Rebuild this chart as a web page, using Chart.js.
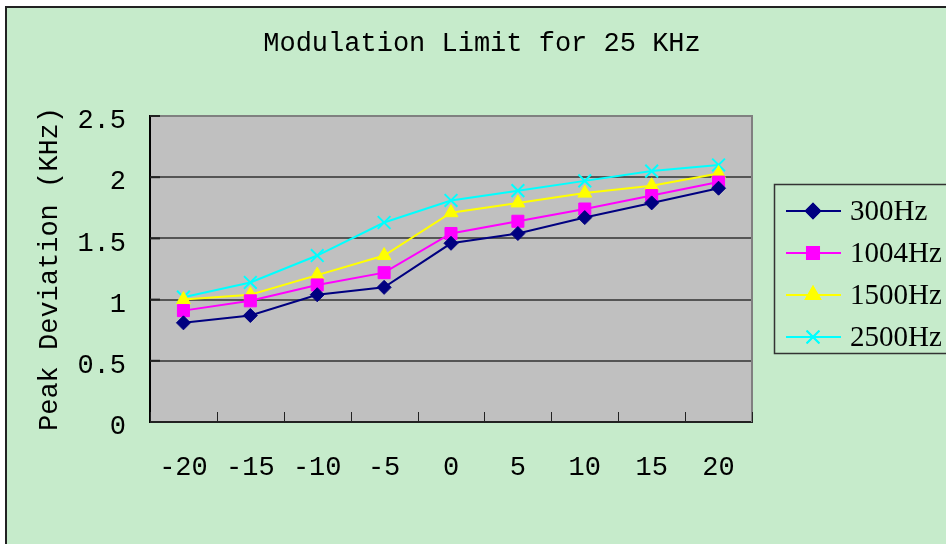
<!DOCTYPE html>
<html>
<head>
<meta charset="utf-8">
<script src="https://cdn.jsdelivr.net/npm/chart.js@4/dist/chart.umd.min.js"></script>
<style>
  html, body { margin: 0; padding: 0; background: #fff; }
  #wrap { width: 946px; height: 544px; }
</style>
</head>
<body>
<div id="wrap"><canvas id="modChart" width="946" height="544"></canvas></div>
<script>
// categories (offset, kHz) and peak deviation per test tone
const categories = ['-20', '-15', '-10', '-5', '0', '5', '10', '15', '20']
const hz300 = [0.81, 0.87, 1.04, 1.10, 1.46, 1.54, 1.67, 1.79, 1.91]
const hz1004 = [0.91, 0.99, 1.12, 1.22, 1.54, 1.64, 1.74, 1.85, 1.96]
const hz1500 = [1.00, 1.04, 1.20, 1.36, 1.71, 1.79, 1.87, 1.93, 2.03]
const hz2500 = [1.02, 1.14, 1.36, 1.63, 1.81, 1.89, 1.97, 2.05, 2.10]
const seriesNames = ['300Hz', '1004Hz', '1500Hz', '2500Hz']

const green = '#c6ebcb'
const monoFont = 'Liberation Mono'

// background, frame, plot area, title and the legend
const decor = {
  id: 'decor',
  beforeDraw(chart) {
    const ctx = chart.ctx
    const a = chart.chartArea
    ctx.save()
    ctx.fillStyle = '#fff'
    ctx.fillRect(0, 0, chart.width, chart.height)
    ctx.fillStyle = green
    ctx.fillRect(5, 6, chart.width, chart.height)
    ctx.fillStyle = '#222'
    ctx.fillRect(5, 6, chart.width, 2)
    ctx.fillRect(5, 6, 2, chart.height)
    ctx.fillStyle = '#c0c0c0'
    ctx.fillRect(a.left, a.top, a.right - a.left, a.bottom - a.top)
    ctx.restore()
  },
  beforeDatasetsDraw(chart) {
    const ctx = chart.ctx
    const a = chart.chartArea
    const x = chart.scales.x
    const y = chart.scales.y
    ctx.save()
    // right border of the plot
    ctx.fillStyle = '#808080'
    ctx.fillRect(a.right - 1, a.top - 1, 2, a.bottom - a.top + 1)
    // inside tick marks
    ctx.strokeStyle = '#222'
    ctx.lineWidth = 1
    const half = (x.getPixelForValue(1) - x.getPixelForValue(0)) / 2
    for (let i = 0; i <= categories.length; i++) {
      const px = Math.round(x.getPixelForValue(i) - half) + 0.5
      ctx.beginPath()
      ctx.moveTo(px, a.bottom)
      ctx.lineTo(px, a.bottom - 10)
      ctx.stroke()
    }
    ctx.lineWidth = 2
    y.ticks.forEach((t) => {
      const py = y.getPixelForValue(t.value)
      ctx.beginPath()
      ctx.moveTo(a.left, py)
      ctx.lineTo(a.left + 10, py)
      ctx.stroke()
    })
    ctx.restore()
  },
  afterDraw(chart) {
    const ctx = chart.ctx
    ctx.save()
    ctx.fillStyle = '#000'
    ctx.font = '27px "' + monoFont + '"'
    ctx.textAlign = 'center'
    ctx.textBaseline = 'middle'
    ctx.fillText('Modulation Limit for 25 KHz', 482, 44)

    // legend
    ctx.strokeStyle = '#333'
    ctx.lineWidth = 1.5
    ctx.strokeRect(774.5, 184.5, 200, 169)
    ctx.font = '29px "Liberation Serif"'
    ctx.textAlign = 'left'
    chart.data.datasets.forEach((ds, i) => {
      const ly = 211 + i * 42
      ctx.strokeStyle = ds.borderColor
      ctx.lineWidth = ds.borderWidth
      ctx.beginPath()
      ctx.moveTo(786, ly)
      ctx.lineTo(841, ly)
      ctx.stroke()
      Chart.helpers.drawPoint(ctx, {
        pointStyle: ds.pointStyle,
        radius: ds.pointRadius,
        rotation: 0,
        borderWidth: ds.pointBorderWidth || 1
      }, 813, ly)
      ctx.fillStyle = ds.pointBackgroundColor
      ctx.strokeStyle = ds.borderColor
      ctx.fill()
      ctx.stroke()
      ctx.fillStyle = '#000'
      ctx.fillText(ds.label, 850, ly + 1)
    })
    ctx.restore()
  }
}

function series(label, data, color, style, radius, bw) {
  return {
    label: label,
    data: data,
    borderColor: color,
    backgroundColor: color,
    pointBackgroundColor: color,
    pointBorderColor: color,
    borderWidth: 2,
    pointStyle: style,
    pointRadius: radius,
    pointHoverRadius: radius,
    pointBorderWidth: bw,
    tension: 0
  }
}

const ctx = document.getElementById('modChart')
new Chart(ctx, {
  type: 'line',
  data: {
    labels: categories,
    datasets: [
      series(seriesNames[0], hz300, '#000080', 'rectRot', 7, 1),
      series(seriesNames[1], hz1004, '#ff00ff', 'rect', 8.5, 1),
      series(seriesNames[2], hz1500, '#ffff00', 'triangle', 8, 1),
      series(seriesNames[3], hz2500, '#00ffff', 'crossRot', 9, 2)
    ]
  },
  options: {
    responsive: false,
    animation: false,
    layout: { padding: { top: 116, right: 194, left: 0, bottom: 0 } },
    plugins: {
      legend: { display: false },
      title: { display: false },
      tooltip: { enabled: false }
    },
    scales: {
      x: {
        offset: true,
        afterFit: (scale) => { scale.height = 122 },
        grid: { display: true, drawOnChartArea: false, drawTicks: false, offset: true },
        border: { color: '#222', width: 2 },
        ticks: {
          color: '#000',
          padding: 30,
          maxRotation: 0,
          font: { family: monoFont, size: 27 }
        }
      },
      y: {
        min: 0,
        max: 2.5,
        afterFit: (scale) => { scale.width = 150 },
        grid: {
          color: (c) => c.tick && c.tick.value === 2.5 ? '#808080' : '#555',
          lineWidth: 2,
          drawTicks: false
        },
        border: { color: '#000', width: 2 },
        ticks: {
          stepSize: 0.5,
          color: '#000',
          padding: 24,
          labelOffset: 5,
          callback: (v) => String(Number(v.toFixed(1))),
          font: { family: monoFont, size: 27 }
        },
        title: {
          display: true,
          text: 'Peak Deviation (KHz)',
          color: '#000',
          padding: { top: 34, bottom: 0 },
          font: { family: monoFont, size: 27 }
        }
      }
    }
  },
  plugins: [decor]
})
</script>
</body>
</html>
